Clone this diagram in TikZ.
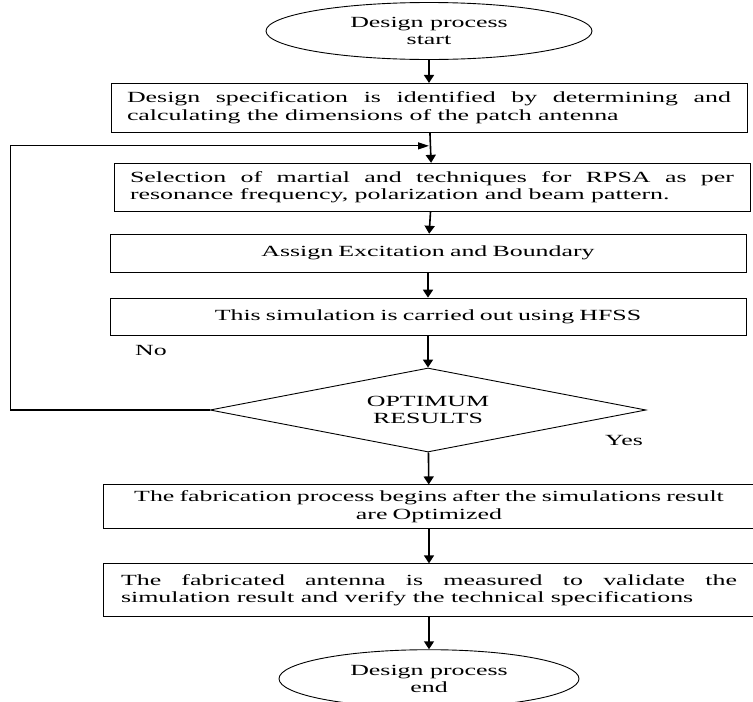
\documentclass[tikz,border=0pt]{standalone}
\usepackage{fontspec}
\setmainfont{Liberation Serif}[FakeStretch=1.67]
\usepackage{tikz}
\usetikzlibrary{shapes, arrows.meta, positioning}
\tikzstyle{line} = [draw, -{Triangle[length=8pt,width=10pt]}, line width=1.6pt]
\tikzstyle{loopline} = [draw, -{Triangle[length=11pt,width=7pt]}, line width=1.2pt]
\tikzstyle{block} = [rectangle, draw, line width=0.9pt, text width=604pt,
  inner xsep=16pt, minimum height=49pt, align=justify]
\tikzstyle{wblock} = [rectangle, draw, line width=0.9pt, text width=616pt,
  inner xsep=18pt, minimum height=44pt, align=center]
\tikzstyle{term} = [ellipse, draw, line width=0.9pt, minimum width=326pt,
  minimum height=57pt, inner sep=0pt, align=center]
\tikzstyle{decision} = [diamond, draw, line width=0.9pt, aspect=5.2,
  minimum width=436pt, minimum height=84pt, inner sep=0pt, align=center]

\begin{document}
\begin{tikzpicture}[x=1pt, y=1pt, font=\fontsize{15.5}{17.5}\selectfont]
    \useasboundingbox (0,0) rectangle (753,-702);
    \clip (0,0) rectangle (753,-702);

    \node [term] at (429,-31) (start) {Design process\\start};
    \node [block, below=23pt of start] (spec) {Design specification is identified by determining and\linebreak calculating the dimensions of the patch antenna};
    \coordinate [below=13pt of spec] (join);
    \node [block, below=30pt of spec, xshift=3pt, minimum height=48pt] (select) {Selection of martial and techniques for RPSA as per\linebreak resonance frequency, polarization and beam pattern.};
    \node [block, below=22pt of select, xshift=-4pt, minimum height=38pt, align=center] (assign) {Assign Excitation and Boundary};
    \node [block, below=25pt of assign, minimum height=37pt, align=center] (hfss) {This simulation is carried out using HFSS};

    \node [decision, below=32pt of hfss] (optimum) {OPTIMUM\\RESULTS};
    \node at (151,-350) (no) {No};
    \node at (624,-440) (yes) {Yes};

    \node [wblock, below=32pt of optimum, xshift=1pt] (fab) {The fabrication process begins after the simulations result\\are Optimized};
    \node [wblock, below=34pt of fab, minimum height=53pt, align=justify] (measure) {The fabricated antenna is measured to validate the\linebreak simulation result and verify the technical specifications};
    \node [term, below=32pt of measure, minimum width=300pt, minimum height=58pt] (end) {Design process\\end};

    \path [line] (start) -- (spec);
    \path [line] (spec) -- (select);
    \path [line] (select) -- (assign);
    \path [line] (assign) -- (hfss);
    \path [line] (hfss) -- (optimum);
    \path [loopline] (optimum.west) -- ++(-199,0) |- (join);
    \path [line] (optimum) -- (fab);
    \path [line] (fab) -- (measure);
    \path [line] (measure) -- (end);

\end{tikzpicture}
\end{document}
